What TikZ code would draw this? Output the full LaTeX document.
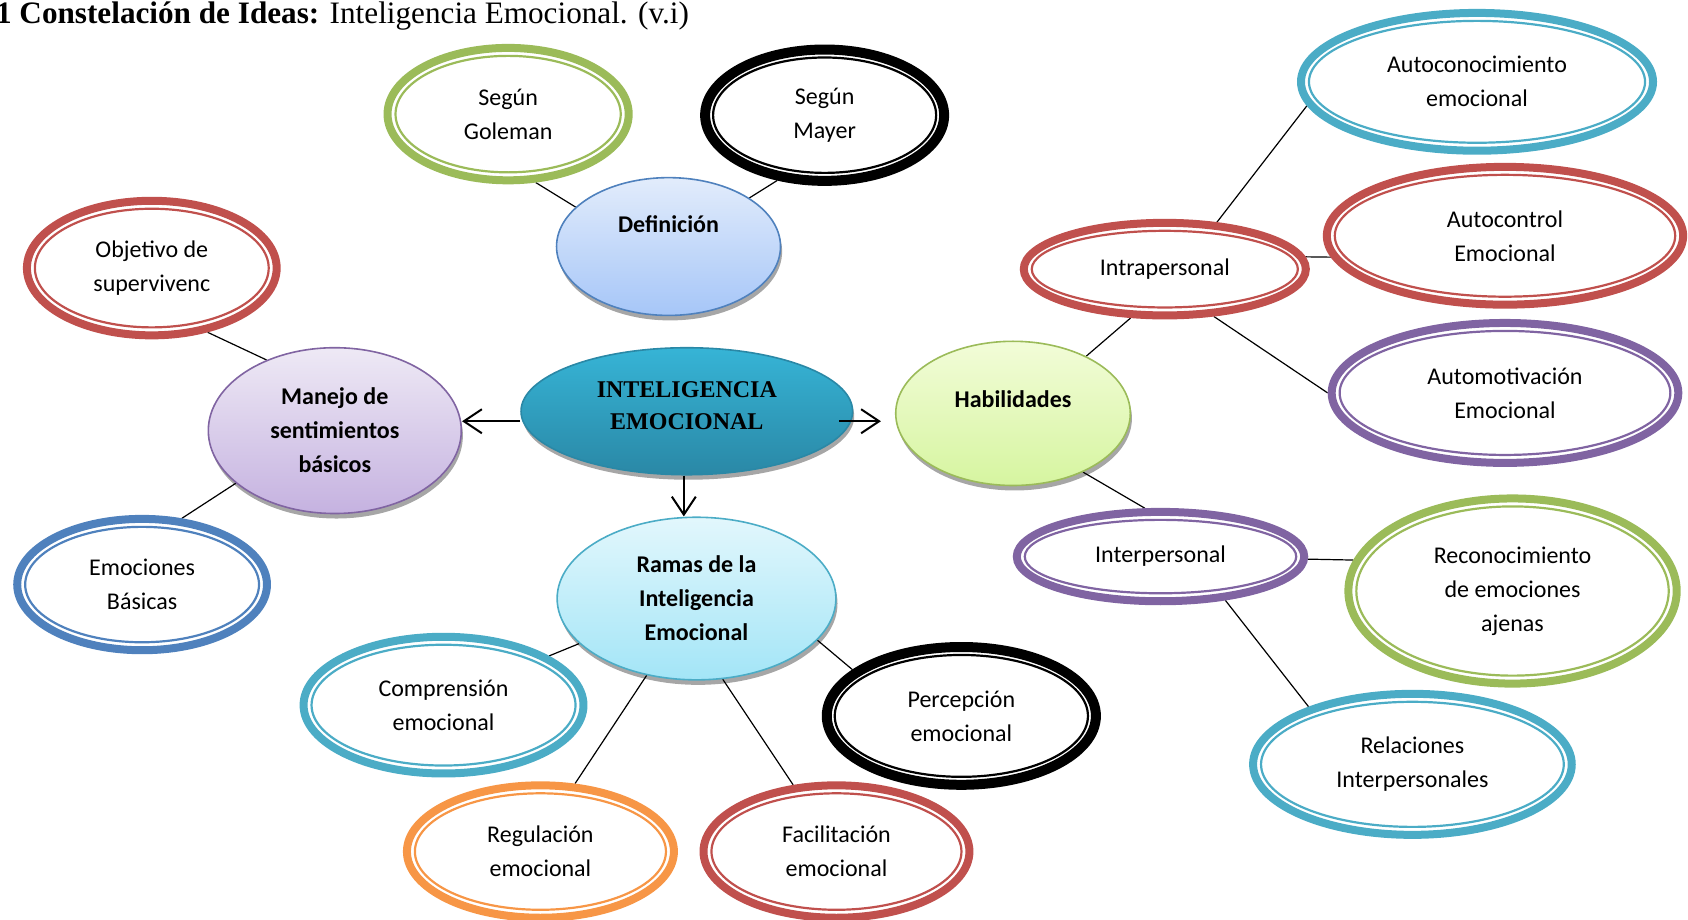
\documentclass[tikz,border=0pt]{standalone}
\usepackage{fontspec}
\setmainfont{Carlito}
\newfontfamily\timesfont{Liberation Serif}
\usetikzlibrary{shapes.geometric,shadows,arrows.meta,backgrounds}

\definecolor{ringred}{HTML}{C0504D}
\definecolor{ringgreen}{HTML}{9BBB59}
\definecolor{ringcyan}{HTML}{4BACC6}
\definecolor{ringpurple}{HTML}{8064A2}
\definecolor{ringblue}{HTML}{4F81BD}
\definecolor{ringorange}{HTML}{F79646}
\definecolor{defTop}{HTML}{E2ECFB}
\definecolor{defBottom}{HTML}{A6C6F8}
\definecolor{manTop}{HTML}{EEE9F5}
\definecolor{manBottom}{HTML}{C5B2E0}
\definecolor{ieTop}{HTML}{36B4D6}
\definecolor{ieBottom}{HTML}{2A88A6}
\definecolor{habTop}{HTML}{F2FCD8}
\definecolor{habBottom}{HTML}{D6F5A0}
\definecolor{ramTop}{HTML}{E2F7FC}
\definecolor{ramBottom}{HTML}{A3E5F7}

\tikzset{
    ring/.style={ellipse, line width=4pt, align=center, inner sep=0pt},
    blob/.style={ellipse, draw=#1, line width=0.8pt, align=center, inner sep=0pt,
        font=\fontsize{12}{17}\selectfont\bfseries,
        drop shadow={shadow xshift=0.8pt, shadow yshift=-2.5pt, fill=black, opacity=0.35}},
    link/.style={line width=0.6pt},
    arr/.style={-{Straight Barb[length=9pt,width=12pt]}, line width=1pt},
}

% name, x, y, width, height, colour, text
\newcommand{\bubble}[7]{%
    \node[ring, draw=#6, minimum width={#4*0.5383pt}, minimum height={#5*0.5383pt}] (#1) at (#2,#3) {#7};
    \draw[#6, line width=1.1pt] (#1.center) ellipse [x radius={#4/2-7.4}, y radius={#5/2-7.4}];
}

\begin{document}
\begin{tikzpicture}[x=0.5383pt, y=-0.5383pt, font=\fontsize{12}{17}\selectfont]

    \useasboundingbox (0,0) rectangle (1568,854);

    %title
    \node[anchor=base west, inner sep=0pt, font=\timesfont\fontsize{15.6}{19}\selectfont] (title) at (-4,22)
        {\textbf{1 Constelación de Ideas:} Inteligencia Emocional. (v.i)};

    %main nodes
    \node[blob=ringblue, top color=defTop, bottom color=defBottom,
        minimum width=112pt, minimum height=68.9pt, text height=9pt, text depth=23pt] (def) at (621,229) {Definición};
    \node[blob=ringpurple, top color=manTop, bottom color=manBottom,
        minimum width=126.5pt, minimum height=82.9pt] (man) at (311,400) {Manejo de\\sentimientos\\básicos};
    \node[blob=ieBottom, top color=ieTop, bottom color=ieBottom,
        minimum width=165.8pt, minimum height=63.5pt, text depth=6pt,
        font=\timesfont\bfseries\fontsize{12}{16}\selectfont] (ie) at (638,382)
        {INTELIGENCIA\\EMOCIONAL};
    \node[blob=ringgreen, top color=habTop, bottom color=habBottom,
        minimum width=117.3pt, minimum height=72.1pt, text height=9pt, text depth=15pt] (hab) at (941,384) {Habilidades};
    \node[blob=ringcyan, top color=ramTop, bottom color=ramBottom,
        minimum width=139.4pt, minimum height=81.3pt] (ram) at (647,556) {Ramas de la\\Inteligencia\\Emocional};

    %rings
    \bubble{gol}{472}{106}{224}{123}{ringgreen}{Según\\Goleman}
    \bubble{may}{766}{107}{222}{122}{black, line width=5pt}{Según\\Mayer}
    \bubble{obj}{141}{249}{232}{125}{ringred}{Objetivo de\\supervivenc}
    \bubble{emo}{132}{543}{232}{122}{ringblue}{Emociones\\Básicas}
    \bubble{com}{412}{655}{260}{127}{ringcyan}{Comprensión\\emocional}
    \bubble{per}{893}{665}{250}{128}{black, line width=5pt}{Percepción\\emocional}
    \bubble{reg}{502}{791}{248}{123}{ringorange}{Regulación\\emocional}
    \bubble{fac}{777}{791}{247}{123}{ringred}{Facilitación\\emocional}
    \bubble{auc}{1372}{76}{327}{128}{ringcyan}{Autoconocimiento\\emocional}
    \bubble{intra}{1082}{250}{262}{86}{ringred}{Intrapersonal}
    \bubble{auct}{1398}{219}{331}{128}{ringred}{Autocontrol\\Emocional}
    \bubble{aumot}{1398}{365}{322}{130}{ringpurple}{Automotivación\\Emocional}
    \bubble{inter}{1078}{517}{267}{83}{ringpurple}{Interpersonal}
    \bubble{recon}{1405}{549}{305}{172}{ringgreen}{Reconocimiento\\de emociones\\ajenas}
    \bubble{rel}{1312}{710}{296}{131}{ringcyan}{Relaciones\\Interpersonales}

    %connectors
    \begin{scope}[on background layer]
        \draw[link] (gol.292) -- (def.157);
        \draw[link] (may.234) -- (def.31);
        \draw[link] (obj.311) -- (man.134);
        \draw[link] (emo.59) -- (man.208);
        \draw[link] (hab.38) -- (intra.235);
        \draw[link] (intra.42) -- (auc.188);
        \draw[link] (intra.5) -- (auct.187);
        \draw[link] (intra.316) -- (aumot.180);
        \draw[link] (hab.320) -- (inter.108);
        \draw[link] (inter.359) -- (recon.169);
        \draw[link] (inter.326) -- (rel.151);
        \draw[link] (ram.201) -- (com.25);
        \draw[link] (ram.341) -- (per.157);
        \draw[link] (ram.237) -- (reg.63);
        \draw[link] (ram.288) -- (fac.123);
    \end{scope}

    %arrows
    \draw[arr] ([yshift=-5pt]ie.west) -- ([yshift=-5pt]ie.west -| man.east);
    \draw[arr] ([xshift=-7pt,yshift=-5pt]ie.east) -- ([xshift=-7pt,yshift=-5pt]ie.east -| hab.west);
    \draw[arr] ([xshift=-1.5pt]ie.south) -- ([xshift=-1.5pt]ie.south |- ram.north);

\end{tikzpicture}
\end{document}
